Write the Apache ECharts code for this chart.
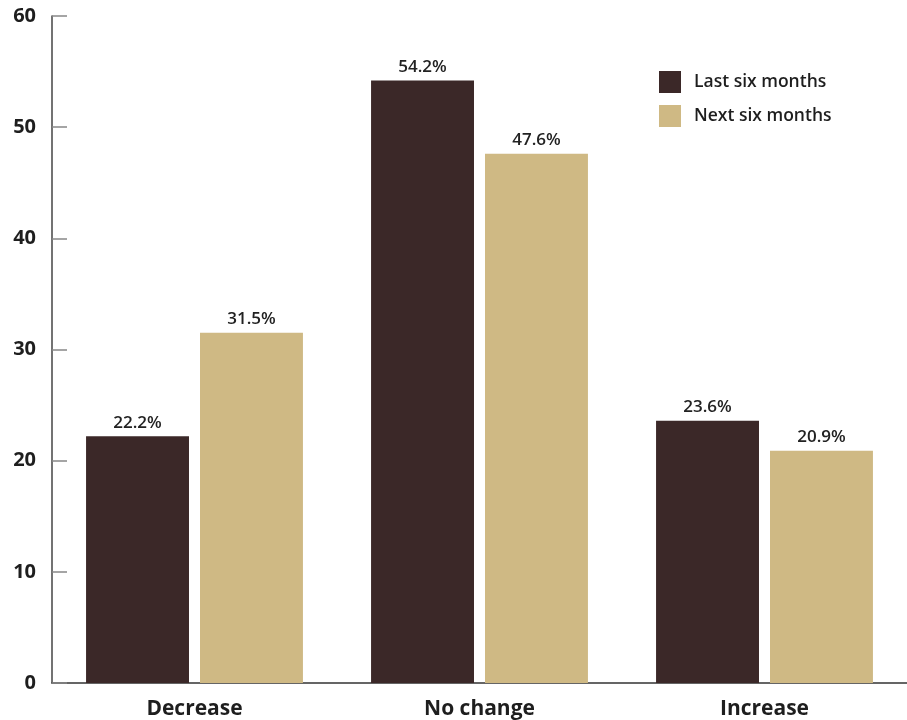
<!DOCTYPE html>
<html><head><meta charset="utf-8">
<script src="https://cdn.jsdelivr.net/npm/echarts@6/dist/echarts.min.js"></script>
<style>html,body{margin:0;padding:0;background:#fff}#c{width:907px;height:720px}</style>
</head><body><div id="c"></div>
<script>
const categories = ['Decrease', 'No change', 'Increase'];
const lastSixMonths = [22.2, 54.2, 23.6];
const nextSixMonths = [31.5, 47.6, 20.9];
const seriesNames = ['Last six months', 'Next six months'];

const FONT = 'Open Sans';
const chart = echarts.init(document.getElementById('c'), null, {renderer: 'canvas'});
const labelOpt = {
  show: true, position: 'top', distance: 5,
  formatter: p => p.value.toFixed(1) + '%',
  color: '#222', fontFamily: FONT, fontSize: 17, fontWeight: 600
};
chart.setOption({
  animation: false,
  textStyle: {fontFamily: FONT},
  grid: {left: 52, right: 0, top: 16, bottom: 37, containLabel: false},
  legend: {
    orient: 'vertical', left: 654, top: 66,
    itemWidth: 22, itemHeight: 22, itemGap: 12,
    icon: 'rect',
    textStyle: {fontFamily: FONT, fontSize: 17.5, fontWeight: 600, color: '#1e1e1e', padding: [0, 0, 0, 8]},
    data: seriesNames
  },
  xAxis: {
    type: 'category', data: categories,
    axisLine: {lineStyle: {color: '#333', width: 1.5}},
    axisTick: {show: false},
    axisLabel: {color: '#1e1e1e', fontFamily: FONT, fontSize: 21, fontWeight: 700, margin: 16}
  },
  yAxis: {
    type: 'value', min: 0, max: 60, interval: 10,
    axisLine: {show: true, lineStyle: {color: '#444', width: 1.5}},
    axisTick: {show: true, inside: true, length: 15, lineStyle: {color: '#888', width: 1.5}},
    splitLine: {show: false},
    axisLabel: {color: '#1e1e1e', fontFamily: FONT, fontSize: 20, fontWeight: 700, margin: 16}
  },
  series: [
    {name: seriesNames[0], type: 'bar', data: lastSixMonths, barGap: '10.7%', barCategoryGap: '23.9%',
     itemStyle: {color: '#3b2828'}, label: labelOpt},
    {name: seriesNames[1], type: 'bar', data: nextSixMonths,
     itemStyle: {color: '#cfb984'}, label: labelOpt}
  ]
});
</script></body></html>
